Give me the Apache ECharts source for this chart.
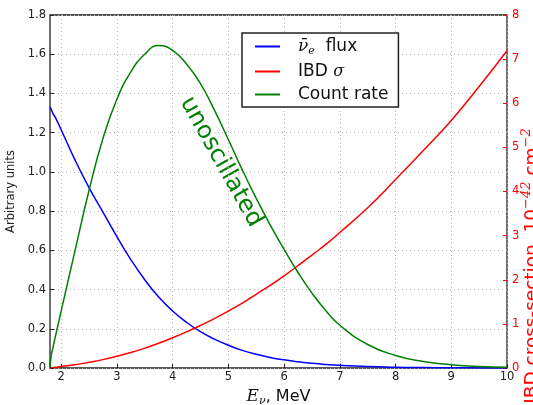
<!DOCTYPE html>
<html>
<head>
<meta charset="utf-8">
<script src="https://cdn.jsdelivr.net/npm/echarts@6/dist/echarts.min.js"></script>
<style>
  html, body { margin: 0; padding: 0; background: #fff; }
  #chart { width: 533px; height: 405px; }
</style>
</head>
<body>
<div id="chart"></div>
<script>
  // neutrino energy, MeV
  var energy = [1.8, 1.82, 1.85, 1.9, 2.0, 2.25, 2.5, 2.75, 3.0, 3.25, 3.5, 3.75, 4.0, 4.25, 4.5, 4.75,
    5.0, 5.25, 5.5, 5.75, 6.0, 6.25, 6.5, 6.75, 7.0, 7.5, 8.0, 8.5, 9.0, 9.5, 10.0];
  // antineutrino flux (arbitrary units, left axis)
  var fluxValues = [1.33, 1.32, 1.30, 1.275, 1.215, 1.06, 0.92, 0.795, 0.67, 0.553, 0.45, 0.362, 0.291, 0.233,
    0.185, 0.147, 0.116, 0.09, 0.07, 0.054, 0.0415, 0.0316, 0.024, 0.018, 0.0134, 0.0074, 0.0038, 0.002,
    0.001, 0.0005, 0.00025];
  // IBD cross-section, 1e-42 cm^2 (right axis)
  var sigmaValues = [0, 0.003, 0.008, 0.016, 0.035, 0.075, 0.13, 0.19, 0.265, 0.35, 0.45, 0.56, 0.685, 0.82,
    0.965, 1.12, 1.29, 1.47, 1.67, 1.87, 2.09, 2.32, 2.56, 2.8, 3.07, 3.63, 4.27, 4.93, 5.61, 6.38, 7.19];
  // count rate (arbitrary units, left axis)
  var countRate = [0, 0.06, 0.1, 0.165, 0.29, 0.6, 0.905, 1.17, 1.37, 1.51, 1.6, 1.644, 1.62, 1.55,
    1.45, 1.315, 1.165, 1.01, 0.865, 0.73, 0.605, 0.487, 0.382, 0.292, 0.218, 0.12, 0.064, 0.033, 0.017, 0.008, 0.004];
  var xTicks = [2, 3, 4, 5, 6, 7, 8, 9, 10];

  var chart = echarts.init(document.getElementById('chart'));

  function pairs(ys) {
    return energy.map(function (e, i) { return [e, ys[i]]; });
  }

  var font = 'DejaVu Sans';
  var mathFont = 'DejaVu Serif';
  var gridLine = { show: true, lineStyle: { type: [1, 3], color: '#b4b4b4', width: 1 } };

  chart.setOption({
    animation: false,
    backgroundColor: '#fff',
    grid: {
      left: 50, right: 26, top: 15, bottom: 37,
      outerBoundsMode: 'none',
      containLabel: false,
      show: true,
      borderColor: '#222',
      borderWidth: 1.3
    },
    legend: {
      orient: 'vertical',
      left: 242, top: 33,
      padding: [5, 10, 4, 13],
      itemGap: 6,
      itemWidth: 25,
      itemHeight: 2,
      icon: 'rect',
      borderColor: '#222',
      borderWidth: 1.5,
      borderRadius: 0,
      backgroundColor: '#fff',
      data: ['flux', 'sigma', 'count'],
      formatter: function (name) {
        if (name === 'flux') return '{nu|ν̄}{sub|e}{t|  flux}';
        if (name === 'sigma') return '{t|IBD }{it|σ}';
        return '{t|Count rate}';
      },
      textStyle: {
        padding: [0, 0, 0, 13],
        rich: {
          t: { fontFamily: font, fontSize: 17, color: '#111', lineHeight: 20 },
          nu: { fontFamily: mathFont, fontStyle: 'italic', fontSize: 17, color: '#111', lineHeight: 20 },
          it: { fontFamily: mathFont, fontStyle: 'italic', fontSize: 16, color: '#111', lineHeight: 20 },
          sub: { fontFamily: mathFont, fontStyle: 'italic', fontSize: 11, color: '#111', padding: [10, 0, 0, 0] }
        }
      }
    },
    xAxis: {
      type: 'value',
      min: 1.8, max: 10,
      name: '{e|E}{sub|ν}{t|, MeV}',
      nameLocation: 'middle',
      nameGap: 13,
      nameTextStyle: {
        rich: {
          e: { fontFamily: mathFont, fontStyle: 'italic', fontSize: 17, color: '#111' },
          sub: { fontFamily: mathFont, fontStyle: 'italic', fontSize: 11, color: '#111', padding: [9, 0, 0, 0] },
          t: { fontFamily: font, fontSize: 16, color: '#111' }
        }
      },
      axisLine: { show: false },
      axisTick: { customValues: xTicks, inside: true, length: 4, lineStyle: { color: '#222' } },
      axisLabel: { customValues: xTicks, fontFamily: font, fontSize: 11.5, color: '#222', margin: 3 },
      splitLine: gridLine
    },
    yAxis: [
      {
        type: 'value',
        min: 0, max: 1.8, interval: 0.2,
        name: 'Arbitrary units',
        nameLocation: 'middle',
        nameGap: 25,
        nameTextStyle: { fontFamily: font, fontSize: 11.5, color: '#222' },
        axisLine: { show: false },
        axisTick: { show: true, inside: true, length: 4, lineStyle: { color: '#222' } },
        axisLabel: {
          fontFamily: font, fontSize: 11.5, color: '#222', margin: 4,
          formatter: function (v) { return v.toFixed(1); }
        },
        splitLine: gridLine
      },
      {
        type: 'value',
        position: 'right',
        min: 0, max: 8, interval: 1,
        axisLine: { show: false },
        axisTick: { show: true, inside: true, length: 4, lineStyle: { color: '#ff0000' } },
        axisLabel: { fontFamily: font, fontSize: 11.5, color: '#ff0000', margin: 5 },
        splitLine: { show: false }
      }
    ],
    series: [
      {
        name: 'flux', type: 'line', yAxisIndex: 0,
        data: pairs(fluxValues),
        smooth: 0.5, showSymbol: false,
        lineStyle: { color: '#0000ff', width: 1.5 },
        itemStyle: { color: '#0000ff' }
      },
      {
        name: 'sigma', type: 'line', yAxisIndex: 1,
        data: pairs(sigmaValues),
        smooth: 0.5, showSymbol: false,
        lineStyle: { color: '#ff0000', width: 1.5 },
        itemStyle: { color: '#ff0000' }
      },
      {
        name: 'count', type: 'line', yAxisIndex: 0,
        data: pairs(countRate),
        smooth: 0.5, showSymbol: false,
        lineStyle: { color: '#008000', width: 1.5 },
        itemStyle: { color: '#008000' }
      }
    ],
    graphic: [
      {
        type: 'text',
        x: 221, y: 162,
        rotation: -1.06,
        style: {
          text: 'unoscillated',
          font: '24px "DejaVu Sans"',
          fill: '#008000',
          align: 'center',
          verticalAlign: 'middle'
        }
      },
      {
        type: 'text',
        x: 532, y: 266,
        rotation: Math.PI / 2,
        style: {
          text: '{t|IBD cross-section, 10}{sup|−42}{t| cm}{sup|−2}',
          fill: '#ff0000',
          align: 'center',
          verticalAlign: 'middle',
          rich: {
            t: { fontFamily: font, fontSize: 18.5, fill: '#ff0000' },
            sup: { fontFamily: mathFont, fontStyle: 'italic', fontSize: 13, fill: '#ff0000', padding: [0, 0, 10, 0] }
          }
        }
      }
    ]
  });
</script>
</body>
</html>
